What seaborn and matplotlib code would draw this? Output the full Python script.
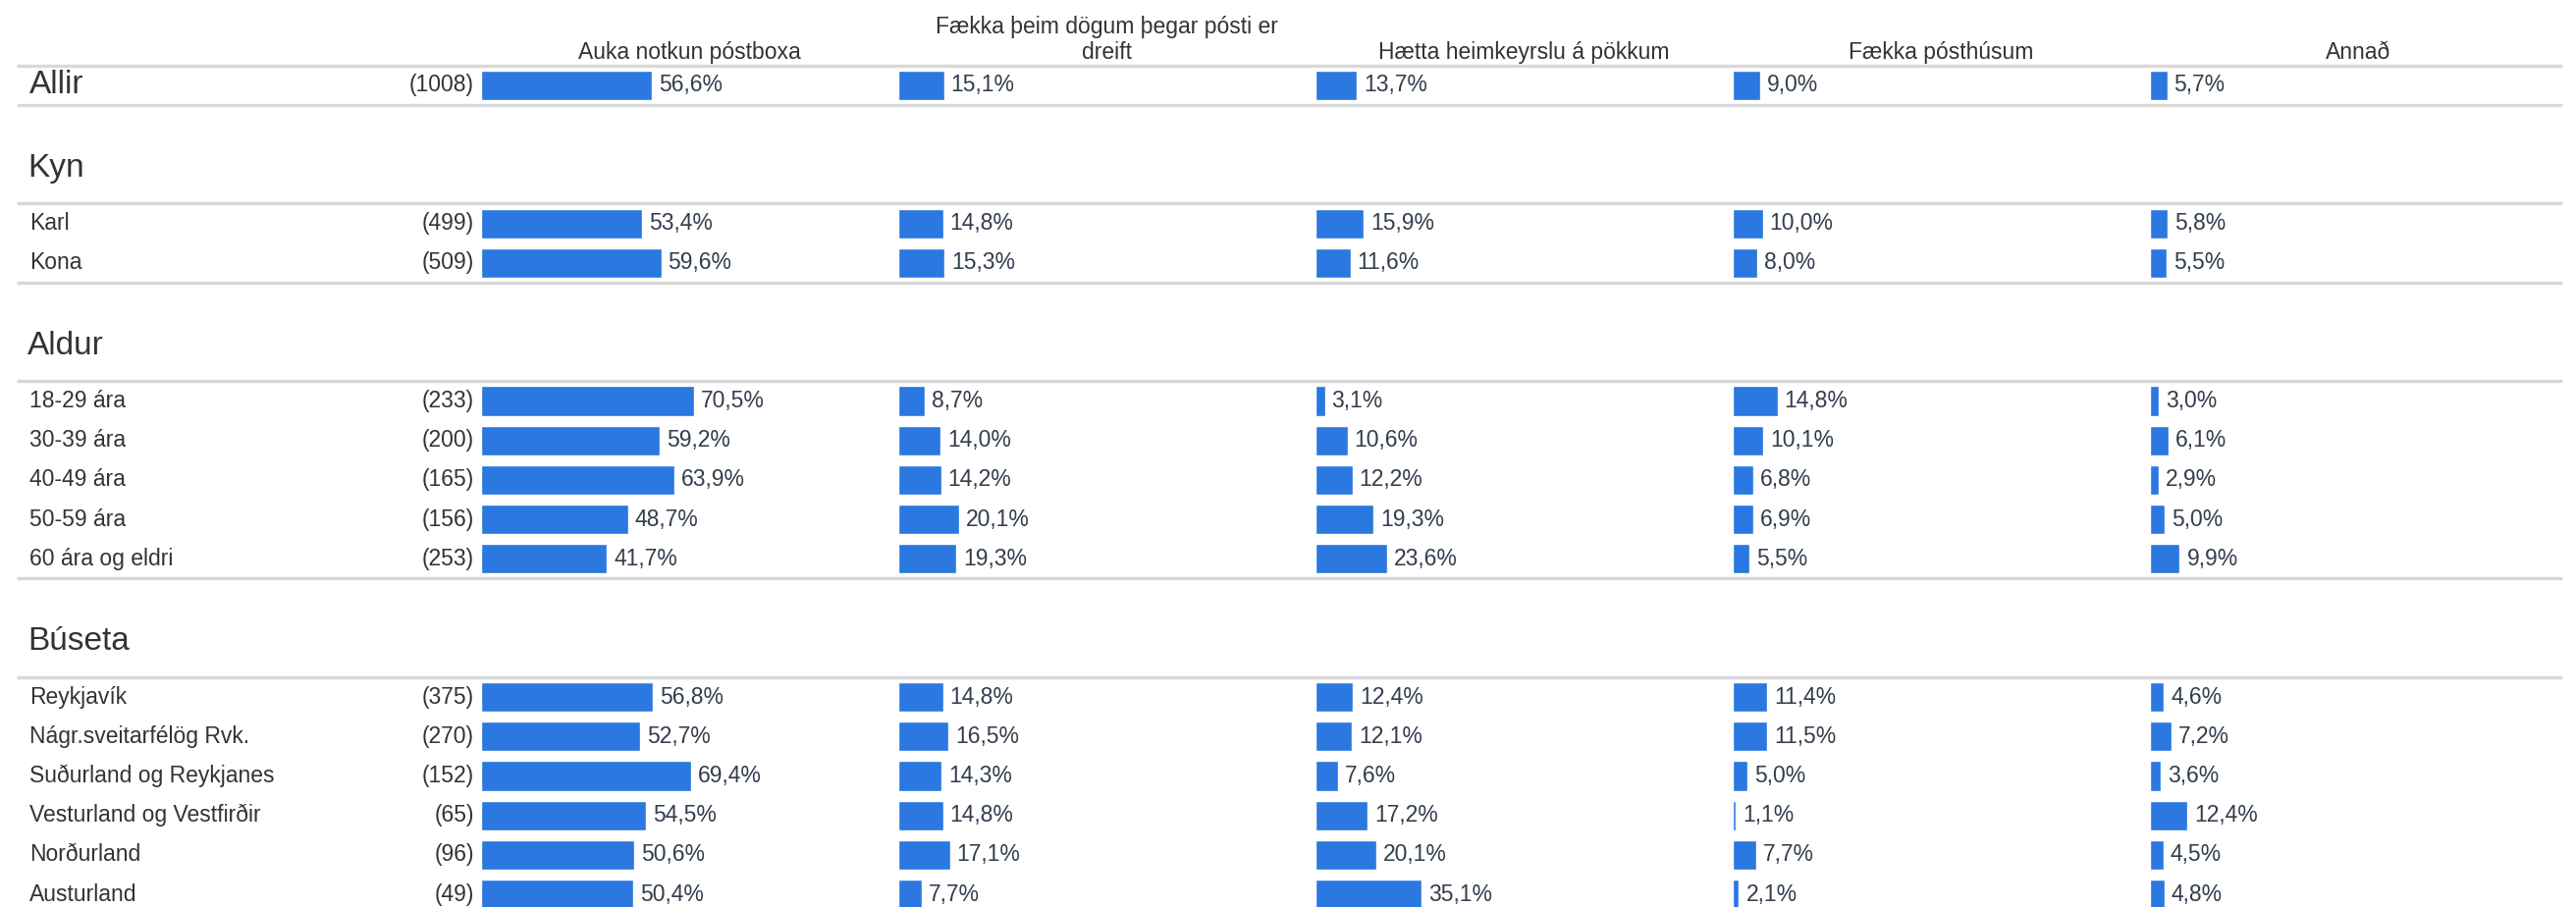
import numpy as np
import pandas as pd
import seaborn as sns
import matplotlib.pyplot as plt

sns.set_theme(style="white")
plt.rcParams['font.family'] = ['Liberation Sans', 'DejaVu Sans']

# data
groups = ["Allir", "Kyn", "Aldur", "Búseta"]
group_sizes = [1, 2, 5, 6]
rows = ["Allir", "Karl", "Kona",
        "18-29 ára", "30-39 ára", "40-49 ára", "50-59 ára", "60 ára og eldri",
        "Reykjavík", "Nágr.sveitarfélög Rvk.", "Suðurland og Reykjanes",
        "Vesturland og Vestfirðir", "Norðurland", "Austurland"]
counts = [1008, 499, 509, 233, 200, 165, 156, 253, 375, 270, 152, 65, 96, 49]
answers = ["Auka notkun póstboxa",
           "Fækka þeim dögum þegar pósti er\ndreift",
           "Hætta heimkeyrslu á pökkum",
           "Fækka pósthúsum",
           "Annað"]
auka = [56.6, 53.4, 59.6, 70.5, 59.2, 63.9, 48.7, 41.7, 56.8, 52.7, 69.4, 54.5, 50.6, 50.4]
faekka_daga = [15.1, 14.8, 15.3, 8.7, 14.0, 14.2, 20.1, 19.3, 14.8, 16.5, 14.3, 14.8, 17.1, 7.7]
haetta = [13.7, 15.9, 11.6, 3.1, 10.6, 12.2, 19.3, 23.6, 12.4, 12.1, 7.6, 17.2, 20.1, 35.1]
faekka_hus = [9.0, 10.0, 8.0, 14.8, 10.1, 6.8, 6.9, 5.5, 11.4, 11.5, 5.0, 1.1, 7.7, 2.1]
annad = [5.7, 5.8, 5.5, 3.0, 6.1, 2.9, 5.0, 9.9, 4.6, 7.2, 3.6, 12.4, 4.5, 4.8]
series = [auka, faekka_daga, haetta, faekka_hus, annad]

BLUE = "#2a78e0"
TXT = "#333333"
VAL = "#333d4d"
LINE = "#d8d8d8"

# vertical layout: one unit per row, extra gap between groups
ypos = []
starts = []
y = 0.0
for size in group_sizes:
    starts.append(y)
    for k in range(size):
        ypos.append(y + k)
    y += size - 1 + 3.5

rows_df = []
for ans, vals in zip(answers, series):
    for lab, yy, v in zip(rows, ypos, vals):
        rows_df.append({"svar": ans, "hopur": lab, "y": yy, "hlutfall": v})
df = pd.DataFrame(rows_df)

W, H = 2624, 924
fig = plt.figure(figsize=(W / 100, H / 100), dpi=100)
ylim = (20.82, -2.16)

# background axis for labels and separator lines
ax0 = fig.add_axes([0, 0, 1, 1])
ax0.set_xlim(0, W)
ax0.set_ylim(*ylim)
ax0.axis("off")

for g, size, s in zip(groups, group_sizes, starts):
    ax0.hlines([s - 0.5, s + size - 0.5], 17, 2610, color=LINE, lw=2.4)
    if g != "Allir":
        ax0.text(28, s - 1.4, g, fontsize=24, color=TXT, va="center", ha="left")

for lab, yy, n in zip(rows, ypos, counts):
    if lab == "Allir":
        ax0.text(30, yy, lab, fontsize=24, color=TXT, va="center", ha="left")
    else:
        ax0.text(30, yy, lab, fontsize=16.5, color=TXT, va="center", ha="left")
    ax0.text(483, yy, f"({n})", fontsize=16.5, color=TXT, va="center", ha="right")

# one bar axis per answer
col_w = 425
for i, ans in enumerate(answers):
    ax = fig.add_axes([(490 + col_w * i) / W, 0, col_w / W, 1])
    ax.set_facecolor("none")
    sub = df[df["svar"] == ans]
    sns.barplot(data=sub, x="hlutfall", y="y", orient="h", native_scale=True,
                color=BLUE, width=0.75, errorbar=None, saturation=1, ax=ax)
    ax.set_xlim(0, 138)
    ax.set_ylim(*ylim)
    cont = ax.containers[0]
    labs = [f"{b.get_width():.1f}".replace(".", ",") + "%" for b in cont]
    ax.bar_label(cont, labels=labs, padding=5, fontsize=16.5, color=VAL)
    ax.text(69, -0.68, ans, ha="center", va="baseline", fontsize=16.5,
            color=TXT, linespacing=1.15)
    ax.axis("off")

fig.savefig("out.png", dpi=100)
